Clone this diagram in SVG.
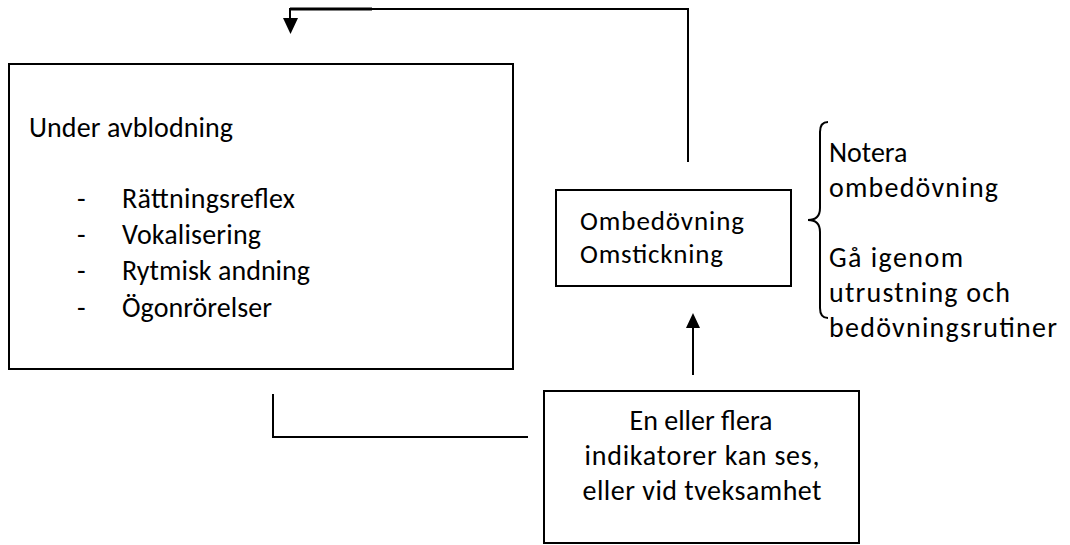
<svg xmlns="http://www.w3.org/2000/svg" width="1070" height="545" viewBox="0 0 1070 545">
<style>
.box{fill:#fff;stroke:#000;stroke-width:2}
.t{font-family:Carlito,Lato,"Open Sans",sans-serif;font-size:28px;fill:#000}
.s{font-size:27px}
.ln{fill:none;stroke:#000;stroke-width:2}
.ah{fill:#000}
</style>
<rect width="1070" height="545" fill="#fff"/>
<g id="connectors">
<polyline class="ln" points="688,162 688,9 290,9 290,20"/>
<line x1="290" y1="9" x2="372" y2="9" stroke="#000" stroke-width="3"/>
<polygon class="ah" points="283,18 298,18 290.5,34"/>
<line class="ln" x1="693" y1="375" x2="693" y2="326"/>
<polygon class="ah" points="686,328 700,328 693,313"/>
<polyline class="ln" points="273,394 273,437 528,437"/>
</g>
<g id="node-avblodning">
<rect class="box" x="9" y="64" width="504" height="305"/>
<text class="t" x="29" y="137" textLength="204">Under avblodning</text>
<text class="t" x="77" y="208">-</text><text class="t" x="122" y="208" textLength="173">Rättningsreflex</text>
<text class="t" x="77" y="244">-</text><text class="t" x="122" y="244" textLength="139">Vokalisering</text>
<text class="t" x="77" y="280">-</text><text class="t" x="122" y="280" textLength="188">Rytmisk andning</text>
<text class="t" x="77" y="317">-</text><text class="t" x="122" y="317" textLength="150">Ögonrörelser</text>
</g>
<g id="node-ombedovning">
<rect class="box" x="556" y="190" width="235" height="96"/>
<text class="t s" x="580" y="230" textLength="164">Ombedövning</text>
<text class="t s" x="580" y="263" textLength="143">Omstickning</text>
</g>
<g id="node-indikatorer">
<rect class="box" x="544" y="391" width="315" height="152"/>
<text class="t" x="701" y="430" text-anchor="middle" textLength="143">En eller flera</text>
<text class="t" x="702" y="465" text-anchor="middle" textLength="235">indikatorer kan ses,</text>
<text class="t" x="702" y="500" text-anchor="middle" textLength="239">eller vid tveksamhet</text>
</g>
<g id="node-notes">
<path class="ln" d="M828,122 Q820,122 820,132 L820,208 Q820,220 808,220 Q820,220 820,232 L820,308 Q820,318 828,318" stroke-width="1.5"/>
<text class="t" x="829" y="162">Notera</text>
<text class="t" x="829" y="197" textLength="169">ombedövning</text>
<text class="t" x="829" y="267" textLength="134">Gå igenom</text>
<text class="t" x="829" y="302" textLength="181">utrustning och</text>
<text class="t" x="829" y="337" textLength="228">bedövningsrutiner</text>
</g>
</svg>
